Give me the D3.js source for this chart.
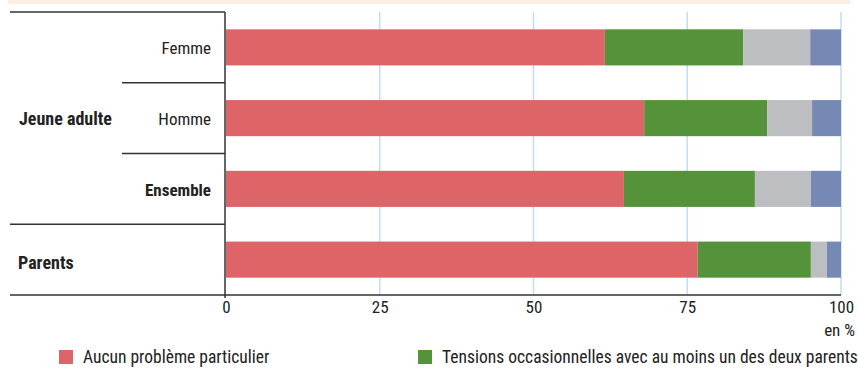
<!DOCTYPE html>
<html><head><meta charset="utf-8">
<script src="https://cdn.jsdelivr.net/npm/d3@7"></script>
<style>
body{margin:0;background:#fff}
text{font-family:"Liberation Sans Narrow","Roboto Condensed","Arial Narrow",sans-serif;font-size:17px;fill:#222}
</style></head><body>
<svg id="c" width="858" height="368"></svg>
<script>
// ---- data ----
const rows = ["Femme", "Homme", "Ensemble", "Parents"];
const rowLabels = ["Femme", "Homme", "Ensemble", ""];
const groups = ["Jeune adulte", "Parents"];
const seriesNames = ["Aucun problème particulier", "Tensions occasionnelles avec au moins un des deux parents", "Série 3", "Série 4"];
const aucun    = [61.6, 68.0, 64.7, 76.7];
const tensions = [22.5, 20.0, 21.3, 18.4];
const serie3   = [10.9, 7.3, 9.1, 2.6];
const serie4   = [5.0, 4.7, 4.9, 2.3];
const tickValues = [0, 25, 50, 75, 100];
const legendNames = seriesNames.slice(0, 2);

const colors = ["#dd6467", "#54933a", "#bdbec1", "#7689b4"];
const svg = d3.select("#c");

// top strip (cropped header)
svg.append("rect").attr("x", 8).attr("y", 0).attr("width", 842).attr("height", 4).attr("fill", "#fdeee4");

const x = d3.scaleLinear().domain([0, 100]).range([226, 841]);
const y = d3.scaleBand().domain(rows).range([12, 295]).paddingInner(0.49).paddingOuter(0.245);
const step = y.step();
const yTop = 12, yBottom = 295;

// gridlines
svg.append("g").selectAll("line").data(tickValues.filter(d => d > 0)).join("line")
  .attr("x1", d => x(d)).attr("x2", d => x(d)).attr("y1", yTop).attr("y2", yBottom)
  .attr("stroke", "#c2ddf5").attr("stroke-width", 1.5);

// stacked bars
const table = rows.map((r, i) => ({row: r, s0: aucun[i], s1: tensions[i], s2: serie3[i], s3: serie4[i]}));
const stack = d3.stack().keys(["s0", "s1", "s2", "s3"])(table);
svg.append("g").selectAll("g").data(stack).join("g").attr("fill", (d, i) => colors[i])
  .selectAll("rect").data(d => d).join("rect")
  .attr("x", d => x(d[0])).attr("width", d => x(d[1]) - x(d[0]))
  .attr("y", d => y(d.data.row)).attr("height", y.bandwidth());

// table lines
const boundary = i => yTop + i * step;
const lineColor = "#333";
const hl = [[10, 0], [122, 1], [122, 2], [10, 3], [10, 4]];
svg.append("g").selectAll("line").data(hl).join("line")
  .attr("x1", d => d[0]).attr("x2", 225)
  .attr("y1", d => boundary(d[1])).attr("y2", d => boundary(d[1]))
  .attr("stroke", lineColor).attr("stroke-width", 1.5);
// axis baseline
svg.append("line").attr("x1", 225).attr("x2", x(100)).attr("y1", yBottom).attr("y2", yBottom)
  .attr("stroke", lineColor).attr("stroke-width", 1.5);
// vertical line
svg.append("line").attr("x1", 225).attr("x2", 225).attr("y1", yTop).attr("y2", yBottom + 3)
  .attr("stroke", lineColor).attr("stroke-width", 1.5);

// x axis labels
const ax = svg.append("g").attr("transform", `translate(0,${yBottom})`)
  .call(d3.axisBottom(x).tickValues(tickValues).tickSize(0).tickPadding(5.5));
ax.select(".domain").remove();
ax.selectAll("text").attr("fill", "#222").style("font-size", "17px")
  .style("font-family", '"Liberation Sans Narrow","Roboto Condensed",sans-serif');
svg.append("text").attr("x", 855).attr("y", 336).attr("text-anchor", "end").text("en %");

// row labels
svg.append("g").selectAll("text").data(rows.slice(0, 3)).join("text")
  .attr("x", 211).attr("y", d => y(d) + y.bandwidth() / 2 + 1)
  .attr("text-anchor", "end").attr("dominant-baseline", "central")
  .style("font-weight", d => d === "Ensemble" ? "bold" : "normal")
  .text((d, i) => rowLabels[i]);
// group labels
svg.append("text").attr("x", 19).attr("y", (boundary(0) + boundary(3)) / 2)
  .attr("dominant-baseline", "central").style("font-weight", "bold").style("font-size", "18px").text(groups[0]);
svg.append("text").attr("x", 18).attr("y", y("Parents") + y.bandwidth() / 2 + 2.5)
  .attr("dominant-baseline", "central").style("font-weight", "bold").style("font-size", "18px").text(groups[1]);

// legend
const lx = [59, 418];
const lg = svg.append("g").selectAll("g").data(legendNames).join("g")
  .attr("transform", (d, i) => `translate(${lx[i]},350)`);
lg.append("rect").attr("width", 14).attr("height", 14).attr("fill", (d, i) => colors[i]);
lg.append("text").attr("x", 24).attr("y", 13).style("font-size", "17.5px").text(d => d);
</script>
</body></html>
